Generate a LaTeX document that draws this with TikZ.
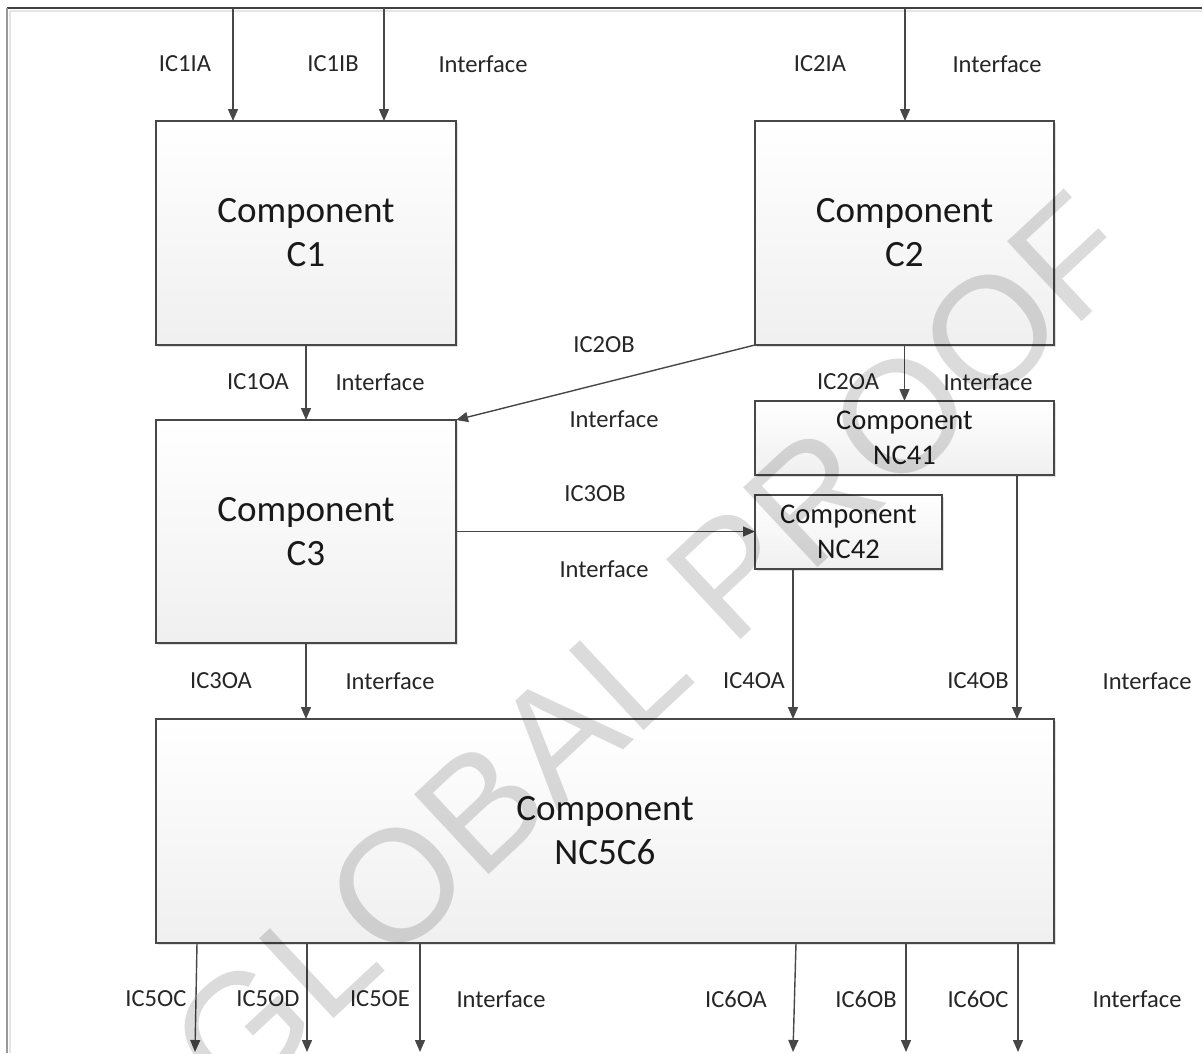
\documentclass[tikz,border=0pt]{standalone}
\usepackage{fontspec}
\setmainfont{Carlito}
\newfontfamily\wmfont{Liberation Sans}
\usetikzlibrary{arrows.meta,calc,shadows}
\begin{document}
\begin{tikzpicture}[x=0.75pt,y=-0.75pt,
  comp/.style={draw=black!72, line width=1pt, top color=white, bottom color=black!6,
    inner sep=0pt, outer sep=0pt, align=center, text=black!90,
    drop shadow={shadow xshift=1.5pt, shadow yshift=-1.5pt, fill=black, opacity=0.12}},
  bigtxt/.style={font=\fontsize{27.8}{33}\selectfont},
  smalltxt/.style={font=\fontsize{21.4}{26}\selectfont},
  lbl/.style={font=\fontsize{18.4}{22}\selectfont, text=black!85, inner sep=0pt},
  conn/.style={draw=black!72, line width=1.05pt, -{Triangle[length=9pt,width=7.5pt]}},
  framel/.style={line width=1pt},
]
\useasboundingbox (0,0) rectangle (1202,1053);
\fill[white] (0,0) rectangle (1202,1053);

% frame
\draw[framel, black!10] (10,11) -- (1202,11);
\draw[framel, black!10] (10,11) -- (10,1053);
\draw[framel, black!75] (7,8) -- (1202,8);
\draw[framel, black!40] (7,8) -- (7,1053);

% components
\node[comp, bigtxt, minimum width=225pt, minimum height=168pt] (C1) at (306,233) {Component\\C1};
\node[comp, bigtxt, minimum width=224.25pt, minimum height=168pt] (C2) at (904.5,233) {Component\\C2};
\node[comp, bigtxt, minimum width=225pt, minimum height=167.25pt] (C3) at (306,531.5) {Component\\C3};
\node[comp, smalltxt, minimum width=224.25pt, minimum height=55.5pt] (NC41) at (904.5,438) {Component\\NC41};
\node[comp, smalltxt, minimum width=140.25pt, minimum height=55.5pt] (NC42) at (848.5,532) {Component\\NC42};
\node[comp, bigtxt, minimum width=673.5pt, minimum height=168pt] (NC5C6) at (605,831) {Component\\NC5C6};

% top inputs
\coordinate (t1) at (233,8);
\coordinate (t2) at (384,8);
\coordinate (t3) at (905,8);
\draw[conn] (t1) -- (t1 |- C1.north);
\draw[conn] (t2) -- (t2 |- C1.north);
\draw[conn] (t3) -- (t3 |- C2.north);

% internal connectors
\draw[conn] (C1.south) -- (C3.north);
\draw[conn] (C2.south) -- (NC41.north);
\draw[conn] (C2.south west) -- (C3.north east);
\draw[conn] (C3.east) -- (C3.east -| NC42.west);
\coordinate (n42o) at ($(NC42.south west)+(38,0)$);
\draw[conn] (n42o) -- (n42o |- NC5C6.north);
\coordinate (n41o) at ($(NC41.south west)+(262,0)$);
\draw[conn] (n41o) -- (n41o |- NC5C6.north);
\draw[conn] (C3.south) -- (C3.south |- NC5C6.north);

% bottom outputs
\coordinate (b1) at (195,1052);
\coordinate (b2) at (307,1052);
\coordinate (b3) at (420,1052);
\coordinate (b4) at (793,1052);
\coordinate (b5) at (906,1052);
\coordinate (b6) at (1018,1052);
\coordinate (s1) at ($(NC5C6.south west)+(41,0)$);
\coordinate (s4) at ($(NC5C6.south west)+(640,0)$);
\draw[conn] (s1) -- (b1);
\draw[conn] (b2 |- NC5C6.south) -- (b2);
\draw[conn] (b3 |- NC5C6.south) -- (b3);
\draw[conn] (s4) -- (b4);
\draw[conn] (b5 |- NC5C6.south) -- (b5);
\draw[conn] (b6 |- NC5C6.south) -- (b6);

% labels
\node[lbl] (l1) at (185,64) {IC1IA};
\node[lbl] (l2) at (333,64) {IC1IB};
\node[lbl] (l3) at (483,64) {Interface};
\node[lbl] (l4) at (820,64) {IC2IA};
\node[lbl] (l5) at (997,64) {Interface};
\node[lbl] (l6) at (604,345) {IC2OB};
\node[lbl] (l7) at (258,382) {IC1OA};
\node[lbl] (l8) at (380,382) {Interface};
\node[lbl] (l9) at (848,382) {IC2OA};
\node[lbl] (l10) at (988,382) {Interface};
\node[lbl] (l11) at (614,419) {Interface};
\node[lbl] (l12) at (595,494) {IC3OB};
\node[lbl] (l13) at (604,569) {Interface};
\node[lbl] (l14) at (221,681) {IC3OA};
\node[lbl] (l15) at (390,681) {Interface};
\node[lbl] (l16) at (754,681) {IC4OA};
\node[lbl] (l17) at (978,681) {IC4OB};
\node[lbl] (l18) at (1147,681) {Interface};
\node[lbl] (l19) at (156,999) {IC5OC};
\node[lbl] (l20) at (268,999) {IC5OD};
\node[lbl] (l21) at (380,999) {IC5OE};
\node[lbl] (l22) at (501,999) {Interface};
\node[lbl] (l23) at (736,999) {IC6OA};
\node[lbl] (l24) at (866,999) {IC6OB};
\node[lbl] (l25) at (978,999) {IC6OC};
\node[lbl] (l26) at (1137,999) {Interface};

% watermark
\node[rotate=43, font=\wmfont\fontsize{119}{124}\selectfont, text=black, text opacity=0.14, inner sep=0pt] (wm) at (652,648) {GLOBAL PROOF};
\end{tikzpicture}
\end{document}
